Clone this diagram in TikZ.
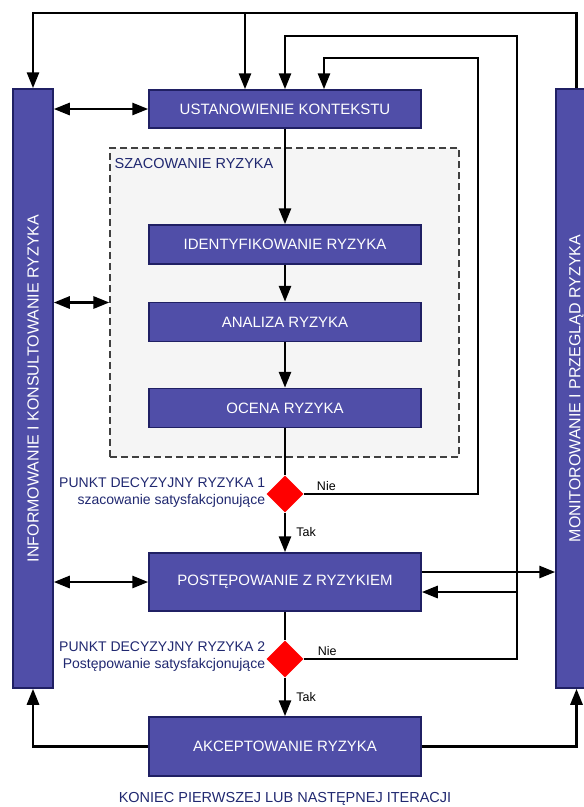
\documentclass[tikz,border=0pt]{standalone}
\usepackage{fontspec}
\setmainfont{Liberation Sans}
\usetikzlibrary{shapes.geometric, arrows.meta}
\usetikzlibrary{calc}
\definecolor{boxfill}{RGB}{80,78,168}
\definecolor{boxline}{RGB}{32,32,100}
\definecolor{granat}{RGB}{32,40,112}
\definecolor{jasny}{RGB}{245,245,245}
\tikzstyle{step_node} = [rectangle, minimum width=272pt, minimum height=39pt, text centered, draw=boxline, line width=1.5pt, fill=boxfill, text=white, font=\fontsize{15}{18}\selectfont]
\tikzstyle{bar_node} = [rectangle, minimum width=40pt, minimum height=599pt, inner sep=0pt, draw=boxline, line width=1.5pt, fill=boxfill, text=white, font=\fontsize{16}{19}\selectfont]
\tikzstyle{decision_node} = [diamond, aspect=1, minimum width=37pt, minimum height=37pt, inner sep=0pt, fill=red]
\tikzstyle{group_node} = [rectangle, minimum width=349pt, minimum height=309pt, draw=black!75, dash pattern=on 7pt off 4pt, line width=1.2pt, fill=jasny]
\tikzstyle{note_node} = [text=granat, font=\fontsize{14}{17}\selectfont, align=right, inner sep=1pt]
\tikzstyle{answer_node} = [font=\fontsize{12.5}{14}\selectfont, inner sep=2pt]
\tikzstyle{arrow} = [line width=2.8pt, ->, >={Triangle[length=16pt,width=12pt]}]
\tikzstyle{plain_line} = [line width=2.8pt]

\begin{document}
\begin{tikzpicture}[x=1pt, y=-1pt, node distance=86pt]
        \useasboundingbox (0,0) rectangle (584,807);
        \clip (0,0) rectangle (584,807);

        \node(szacowanie) [group_node] at (284.5,302.5) {};
        \node(szacLabel) [anchor=north west, text=granat, font=\fontsize{14.5}{17}\selectfont, inner sep=1pt] at ([xshift=4pt, yshift=-10pt]szacowanie.north west) {SZACOWANIE RYZYKA};

        \node(kontekst) [step_node, minimum height=38pt] at (285,109) {USTANOWIENIE KONTEKSTU};
        \node(ident) [step_node, below of=kontekst, yshift=-49.5pt] {IDENTYFIKOWANIE RYZYKA};
        \node(analiza) [step_node, below of=ident, yshift=8.5pt] {ANALIZA RYZYKA};
        \node(ocena) [step_node, below of=analiza] {OCENA RYZYKA};
        \node(decyzja1) [decision_node, below of=ocena] {};
        \node(postep) [step_node, minimum height=58pt, below of=decyzja1, yshift=-2pt] {POSTĘPOWANIE Z RYZYKIEM};
        \node(decyzja2) [decision_node, below of=postep, yshift=9pt] {};
        \node(akcept) [step_node, minimum height=59pt, below of=decyzja2, yshift=-1.5pt] {AKCEPTOWANIE RYZYKA};
        \node(koniec) [text=granat, font=\fontsize{14.5}{17}\selectfont, below of=akcept, yshift=33.5pt] {KONIEC PIERWSZEJ LUB NASTĘPNEJ ITERACJI};

        \node(info) [bar_node] at (33,388.5) {\rotatebox{90}{INFORMOWANIE I KONSULTOWANIE RYZYKA}};
        \node(monitor) [bar_node, minimum width=41pt] at (576.5,388.5) {\rotatebox{90}{MONITOROWANIE I PRZEGLĄD RYZYKA}};

        \node(opis1) [note_node, anchor=east] at ([yshift=1.5pt]decyzja1.west) {PUNKT DECYZYJNY RYZYKA 1\\szacowanie satysfakcjonujące};
        \node(opis2) [note_node, anchor=east] at ([yshift=2.5pt]decyzja2.west) {PUNKT DECYZYJNY RYZYKA 2\\Postępowanie satysfakcjonujące};

        \coordinate (gora) at (33,13);
        \coordinate (gora1) at (245,13);
        \coordinate (petla2) at (517,36);
        \coordinate (petla1) at (478,58);
        \coordinate (wyjscie) at ([yshift=10pt]postep.east);
        \coordinate (powrot) at ([yshift=-10pt]postep.east);

        \draw[arrow] (kontekst) -- (ident);
        \draw[arrow] (ident) -- (analiza);
        \draw[arrow] (analiza) -- (ocena);
        \draw[plain_line] (ocena) -- (decyzja1);
        \draw[arrow] (decyzja1) -- node[answer_node, right, xshift=8pt]{Tak} (postep);
        \draw[plain_line] (postep) -- (decyzja2);
        \draw[arrow] (decyzja2) -- node[answer_node, right, xshift=8pt]{Tak} (akcept);

        \draw[arrow, <->] (info.east |- kontekst.west) -- (kontekst.west);
        \draw[arrow, <->] (info.east |- szacowanie.west) -- (szacowanie.west);
        \draw[arrow, <->] (info.east |- postep.west) -- (postep.west);

        \draw[arrow] (monitor.north) |- (gora) -- (info.north);
        \draw[arrow] (gora1) -- (gora1 |- kontekst.north);
        \draw[arrow] (decyzja1.east) -| node[answer_node, pos=0.065, above]{Nie} (petla1) -| ([xshift=39pt]kontekst.north);
        \draw[arrow] (decyzja2.east) -| node[answer_node, pos=0.055, above]{Nie} (petla2) -| (kontekst.north);
        \draw[arrow] (powrot -| petla2) -- (powrot);
        \draw[arrow] (wyjscie) -- (wyjscie -| monitor.west);

        \draw[arrow] (akcept.west) -| (info.south);
        \draw[arrow] (akcept.east) -| (monitor.south);
    \end{tikzpicture}
\end{document}
